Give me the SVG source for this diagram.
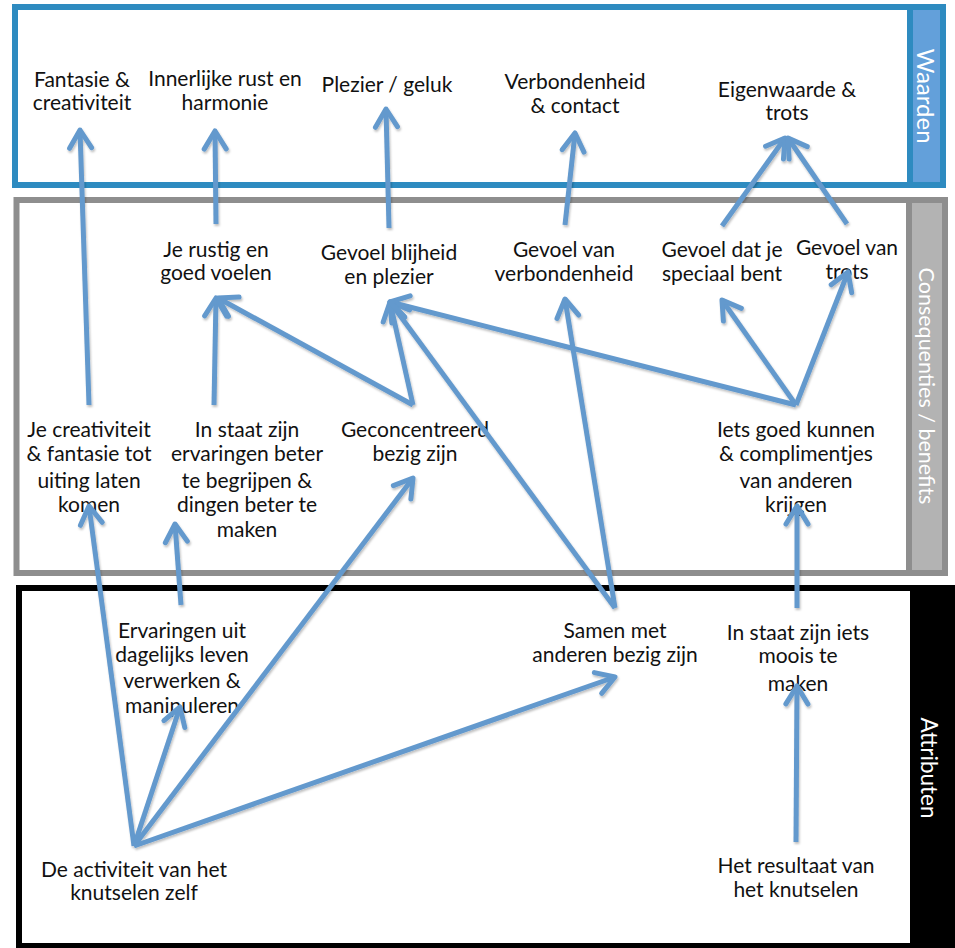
<svg xmlns="http://www.w3.org/2000/svg" width="955" height="948" viewBox="0 0 955 948">
<style>
text{font-family:Lato,"Noto Sans","Liberation Sans",sans-serif;font-size:21px;fill:#111;text-anchor:middle}
.tab{fill:#fff;dominant-baseline:central}
.c line{stroke:#6399cd;stroke-width:5;fill:none;marker-end:url(#ah)}
</style>
<defs>
<marker id="ah" markerUnits="userSpaceOnUse" viewBox="-24 -16 28 32" refX="0" refY="0" markerWidth="28" markerHeight="32" orient="auto" overflow="visible">
<path d="M-18,-11 L0,0 L-18,11" fill="none" stroke="#6399cd" stroke-width="5" stroke-linecap="round" stroke-linejoin="round"/>
</marker>
<filter id="sh" filterUnits="userSpaceOnUse" x="0" y="0" width="955" height="948">
<feDropShadow dx="1" dy="2" stdDeviation="1.2" flood-color="#000" flood-opacity="0.25"/>
</filter>
</defs>
<rect width="955" height="948" fill="#fff"/>
<g id="band-waarden">
<rect x="15" y="7" width="928" height="178" fill="none" stroke="#2e8bc0" stroke-width="6"/>
<rect x="910" y="7" width="33" height="178" fill="#63a0da" stroke="#2e8bc0" stroke-width="6"/>
<text class="tab" transform="translate(926,96) rotate(90)" style="font-size:24px">Waarden</text>
</g>
<g id="band-consequenties">
<rect x="16.5" y="200" width="928.5" height="373" fill="none" stroke="#8e8e8e" stroke-width="6"/>
<rect x="909" y="200" width="36" height="373" fill="#b3b3b3" stroke="#8e8e8e" stroke-width="6"/>
<text class="tab" transform="translate(927,386) rotate(90)" style="font-size:21.5px">Consequenties / benefits</text>
</g>
<g id="band-attributen">
<rect x="19" y="588" width="930" height="358" fill="none" stroke="#000" stroke-width="6"/>
<rect x="910" y="585" width="45" height="363" fill="#000"/>
<text class="tab" transform="translate(929,768) rotate(90)" style="font-size:22.5px">Attributen</text>
</g>
<g id="n-fantasie"><text x="82" y="87">Fantasie &amp;</text><text x="82" y="110">creativiteit</text></g>
<g id="n-innerlijke"><text x="225" y="86">Innerlijke rust en</text><text x="225" y="110">harmonie</text></g>
<g id="n-plezier"><text x="387" y="92">Plezier / geluk</text></g>
<g id="n-verbondenheid"><text x="575" y="89">Verbondenheid</text><text x="575" y="113">&amp; contact</text></g>
<g id="n-eigenwaarde"><text x="787" y="97">Eigenwaarde &amp;</text><text x="787" y="120">trots</text></g>
<g id="n-rustig"><text x="216" y="257">Je rustig en</text><text x="216" y="280">goed voelen</text></g>
<g id="n-blijheid"><text x="389" y="260">Gevoel blijheid</text><text x="389" y="284">en plezier</text></g>
<g id="n-gevoelverb"><text x="564" y="257">Gevoel van</text><text x="564" y="281">verbondenheid</text></g>
<g id="n-speciaal"><text x="722" y="257">Gevoel dat je</text><text x="722" y="281">speciaal bent</text></g>
<g id="n-trots"><text x="847" y="255">Gevoel van</text><text x="847" y="279">trots</text></g>
<g id="n-creativiteit"><text x="89" y="437">Je creativiteit</text><text x="89" y="461">&amp; fantasie tot</text><text x="89" y="488">uiting laten</text><text x="89" y="512">komen</text></g>
<g id="n-begrijpen"><text x="247" y="437">In staat zijn</text><text x="247" y="461">ervaringen beter</text><text x="247" y="488">te begrijpen &amp;</text><text x="247" y="512">dingen beter te</text><text x="247" y="537">maken</text></g>
<g id="n-geconcentreerd"><text x="415" y="437">Geconcentreerd</text><text x="415" y="461">bezig zijn</text></g>
<g id="n-iets"><text x="796" y="437">Iets goed kunnen</text><text x="796" y="461">&amp; complimentjes</text><text x="796" y="488">van anderen</text><text x="796" y="512">krijgen</text></g>
<g id="n-ervaringen"><text x="182" y="638">Ervaringen uit</text><text x="182" y="662">dagelijks leven</text><text x="182" y="688">verwerken &amp;</text><text x="182" y="713">manipuleren</text></g>
<g id="n-samen"><text x="615" y="638">Samen met</text><text x="615" y="662">anderen bezig zijn</text></g>
<g id="n-mooi"><text x="798" y="640">In staat zijn iets</text><text x="798" y="663">moois te</text><text x="798" y="691">maken</text></g>
<g id="n-activiteit"><text x="134" y="877">De activiteit van het</text><text x="134" y="900">knutselen zelf</text></g>
<g id="n-resultaat"><text x="796" y="873">Het resultaat van</text><text x="796" y="897">het knutselen</text></g>
<g id="connectors" class="c" filter="url(#sh)">
<line x1="89" y1="405" x2="80" y2="130"/>
<line x1="216" y1="224" x2="215" y2="131"/>
<line x1="389" y1="228" x2="386" y2="109"/>
<line x1="565" y1="225" x2="575" y2="133"/>
<line x1="722" y1="226" x2="785" y2="138"/>
<line x1="847" y1="224" x2="788" y2="138"/>
<line x1="214" y1="405" x2="216" y2="298"/>
<line x1="413" y1="405" x2="218" y2="298"/>
<line x1="413" y1="405" x2="390" y2="302"/>
<line x1="615" y1="608" x2="390" y2="302"/>
<line x1="615" y1="608" x2="565" y2="299"/>
<line x1="796" y1="405" x2="390" y2="302"/>
<line x1="796" y1="405" x2="722" y2="300"/>
<line x1="796" y1="405" x2="848" y2="272"/>
<line x1="797" y1="608" x2="797" y2="506"/>
<line x1="796" y1="842" x2="797" y2="686"/>
<line x1="134" y1="846" x2="89" y2="506"/>
<line x1="181" y1="605" x2="175" y2="524"/>
<line x1="134" y1="846" x2="180" y2="707"/>
<line x1="134" y1="846" x2="413" y2="478"/>
<line x1="134" y1="846" x2="615" y2="677"/>
</g>
</svg>
